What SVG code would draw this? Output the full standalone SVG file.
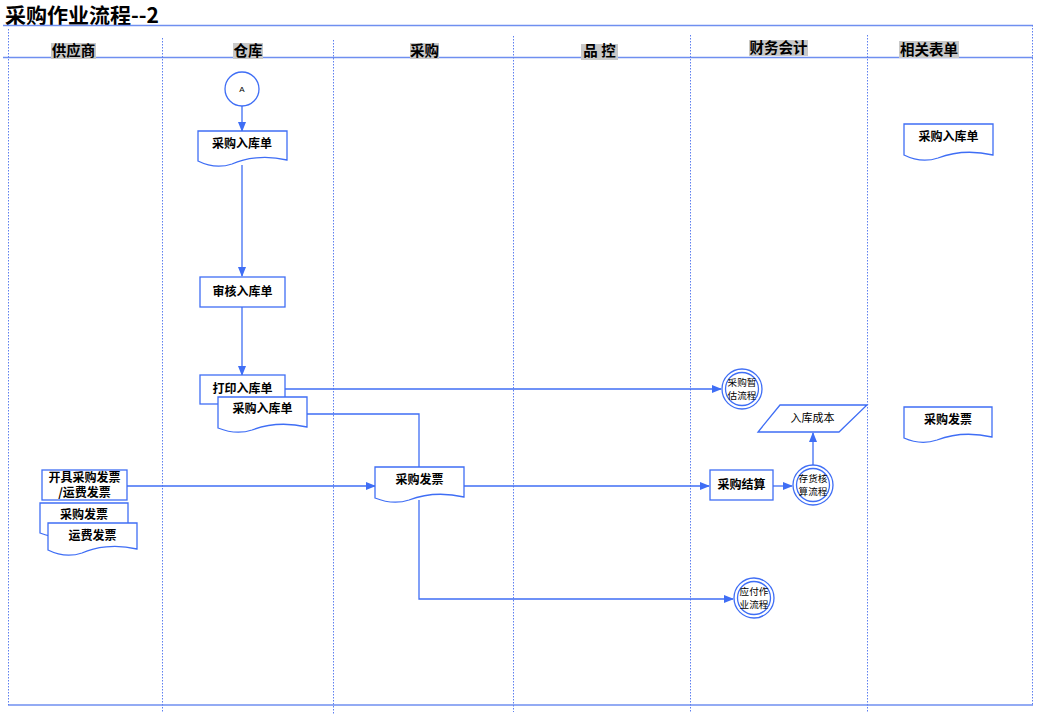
<svg xmlns="http://www.w3.org/2000/svg" width="1042" height="718" viewBox="0 0 1042 718">
<style>
.lane{stroke:#5d7ff0;stroke-width:1;stroke-dasharray:1.5 1.5;fill:none}
.hl{stroke:#6f8ff0;stroke-width:1.5;fill:none}
.hdbg{fill:#c9c9c9}
.hd{font-family:"Noto Sans CJK SC","Liberation Sans",sans-serif;font-size:14.5px;font-weight:bold;fill:#000;text-anchor:middle}
.shape{fill:#fff;stroke:#3f6ef5;stroke-width:1.3}
.lbl{font-family:"Noto Sans CJK SC","Liberation Sans",sans-serif;font-size:12px;font-weight:bold;fill:#000;text-anchor:middle}
.sm{font-family:"Noto Sans CJK SC","Liberation Sans",sans-serif;font-size:9.6px;fill:#000;text-anchor:middle}
.con{fill:none;stroke:#3f6ef5;stroke-width:1.3}
</style>
<defs>
<marker id="arr" markerWidth="10" markerHeight="8" refX="9" refY="4" orient="auto" markerUnits="userSpaceOnUse">
<path d="M0,0 L10,4 L0,8 z" fill="#3f6ef5"/>
</marker>
</defs>
<rect width="1042" height="718" fill="#fff"/>
<text x="5" y="22.5" font-family="Noto Sans CJK SC,Liberation Sans,sans-serif" font-size="21" font-weight="bold" fill="#000">采购作业流程--2</text>
<g id="frame">
<line class="hl" x1="3" y1="25.5" x2="1033" y2="25.5"/>
<line class="hl" x1="3" y1="57.5" x2="1033" y2="57.5"/>
<line class="hl" x1="8" y1="705" x2="1033" y2="705"/>
<line class="lane" x1="8.5" y1="29" x2="8.5" y2="705"/>
<line class="lane" x1="162.5" y1="38" x2="162.5" y2="712"/>
<line class="lane" x1="333.5" y1="40" x2="333.5" y2="715"/>
<line class="lane" x1="513.5" y1="36" x2="513.5" y2="712"/>
<line class="lane" x1="690.5" y1="35" x2="690.5" y2="712"/>
<line class="lane" x1="867.5" y1="35" x2="867.5" y2="712"/>
<line class="lane" x1="1032.5" y1="25" x2="1032.5" y2="705"/>
</g>
<g id="headers">
<rect class="hdbg" x="51" y="43" width="45" height="16"/>
<text class="hd" x="73.5" y="56">供应商</text>
<rect class="hdbg" x="233" y="43" width="30" height="16"/>
<text class="hd" x="248" y="56">仓库</text>
<rect class="hdbg" x="410" y="43" width="29" height="16"/>
<text class="hd" x="424.5" y="56">采购</text>
<rect class="hdbg" x="581" y="44" width="37" height="16"/>
<text class="hd" x="599.5" y="56">品 控</text>
<rect class="hdbg" x="749" y="40" width="59" height="16"/>
<text class="hd" x="778.5" y="53">财务会计</text>
<rect class="hdbg" x="899" y="41" width="60" height="17"/>
<text class="hd" x="929" y="55">相关表单</text>
</g>
<g id="connectors">
<line class="con" x1="242" y1="106" x2="242" y2="131" marker-end="url(#arr)"/>
<line class="con" x1="242" y1="165" x2="242" y2="276" marker-end="url(#arr)"/>
<line class="con" x1="242" y1="307" x2="242" y2="375" marker-end="url(#arr)"/>
<line class="con" x1="285" y1="389" x2="721" y2="389" marker-end="url(#arr)"/>
<polyline class="con" points="307,414 419,414 419,467"/>
<line class="con" x1="127" y1="486" x2="375" y2="486" marker-end="url(#arr)"/>
<line class="con" x1="464" y1="486" x2="709" y2="486" marker-end="url(#arr)"/>
<line class="con" x1="773" y1="486" x2="792" y2="486" marker-end="url(#arr)"/>
<line class="con" x1="813" y1="465" x2="813" y2="433" marker-end="url(#arr)"/>
<polyline class="con" points="419,500 419,599 733,599" marker-end="url(#arr)"/>
</g>
<g id="nodeA">
<circle class="shape" cx="242" cy="89" r="17"/>
<text x="242" y="92" font-family="Liberation Sans,sans-serif" font-size="8" text-anchor="middle" fill="#000">A</text>
</g>
<g id="doc-rkd1">
<path class="shape" d="M198,131 H287 V160 C265,155 245,158 232,164 C220,168 208,166 198,161 Z"/>
<text class="lbl" x="242" y="148">采购入库单</text>
</g>
<g id="shenhe">
<rect class="shape" x="200" y="277" width="85" height="30"/>
<text class="lbl" x="242.5" y="296">审核入库单</text>
</g>
<g id="dayin">
<rect class="shape" x="200" y="375" width="85" height="29"/>
<text class="lbl" x="242.5" y="393">打印入库单</text>
</g>
<g id="doc-rkd2">
<path class="shape" d="M218,397 H307 V427 C285,422 265,425 252,430 C240,434 228,432 218,428 Z"/>
<text class="lbl" x="262.5" y="413">采购入库单</text>
</g>
<g id="kaiju">
<rect class="shape" x="42" y="470" width="85" height="30"/>
<text class="lbl" x="84.5" y="481.5">开具采购发票<tspan x="84.5" dy="15">/运费发票</tspan></text>
</g>
<g id="doc-cgfp-supplier">
<path class="shape" d="M40,503 H128 V532 C106,527 86,530 73,535 C61,539 50,537 40,533 Z"/>
<text class="lbl" x="84" y="519">采购发票</text>
</g>
<g id="doc-yffp">
<path class="shape" d="M48,523 H137 V549 C115,544 95,547 82,553 C70,557 58,555 48,550 Z"/>
<text class="lbl" x="92.5" y="540">运费发票</text>
</g>
<g id="doc-cgfp">
<path class="shape" d="M375,467 H464 V497 C442,492 422,495 409,500 C397,504 385,502 375,498 Z"/>
<text class="lbl" x="419.5" y="484">采购发票</text>
</g>
<g id="zangu">
<circle class="shape" cx="742" cy="389" r="20"/>
<circle class="shape" cx="742" cy="389" r="16.5"/>
<text class="sm" x="742" y="386">采购暂<tspan x="742" dy="12.6">估流程</tspan></text>
</g>
<g id="jiesuan">
<rect class="shape" x="710" y="470" width="63" height="30"/>
<text class="lbl" x="741.5" y="489">采购结算</text>
</g>
<g id="cunhuo">
<circle class="shape" cx="813" cy="485" r="20"/>
<circle class="shape" cx="813" cy="485" r="16.5"/>
<text class="sm" x="813" y="482">存货核<tspan x="813" dy="12.6">算流程</tspan></text>
</g>
<g id="chengben">
<path class="shape" d="M780,405 H867 L839,432 H758 Z"/>
<text x="812.5" y="422" font-family="Noto Sans CJK SC,Liberation Sans,sans-serif" font-size="11" text-anchor="middle" fill="#000">入库成本</text>
</g>
<g id="yingfu">
<circle class="shape" cx="754" cy="598" r="20"/>
<circle class="shape" cx="754" cy="598" r="16.5"/>
<text class="sm" x="754" y="595">应付作<tspan x="754" dy="12.6">业流程</tspan></text>
</g>
<g id="form-rkd">
<path class="shape" d="M904,124 H993 V155 C971,150 951,153 938,158 C926,162 914,160 904,155 Z"/>
<text class="lbl" x="948.5" y="141">采购入库单</text>
</g>
<g id="form-cgfp">
<path class="shape" d="M904,407 H992 V437 C970,432 950,435 937,440 C925,444 913,442 904,438 Z"/>
<text class="lbl" x="948" y="424">采购发票</text>
</g>
</svg>
